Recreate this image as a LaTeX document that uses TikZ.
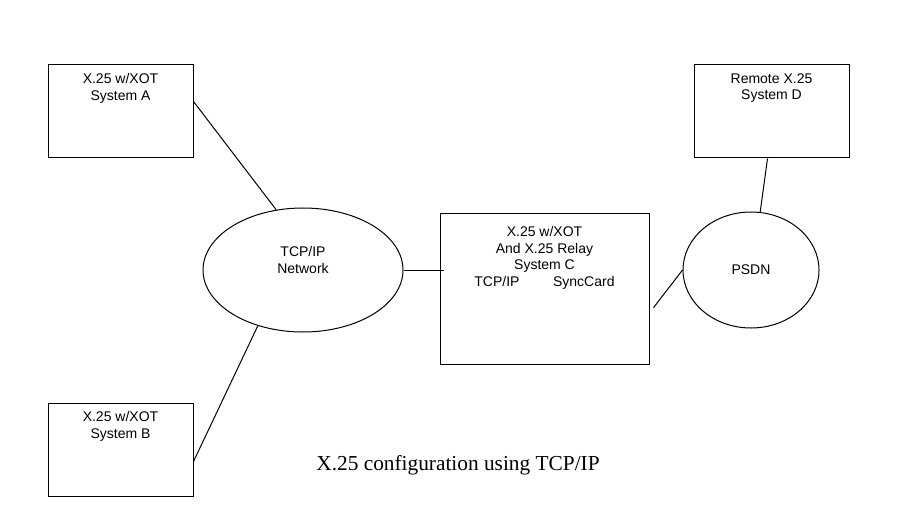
\documentclass[tikz,border=0pt]{standalone}
\usepackage{fontspec}
\setmainfont{Liberation Sans}
\newfontfamily\capfont{Liberation Serif}
\usetikzlibrary{shapes.geometric}
\tikzset{every picture/.style={line width=0.75pt},
  sysbox/.style={draw,minimum width=108.75pt,minimum height=69.75pt,inner sep=0pt},
  lbl/.style={inner sep=0.75pt,align=center,font=\fontsize{10.5}{12.5}\selectfont}}
\begin{document}
\begin{tikzpicture}[x=0.75pt,y=0.75pt,yscale=-1,xscale=1]
\useasboundingbox (0,0) rectangle (898,527);

% systems
\node[sysbox] (sysa) at (120.5,111.5) {};
\node[sysbox] (sysb) at (120.5,449.5) {};
\node[sysbox,minimum width=116.25pt] (sysd) at (771.5,111.5) {};
\node[draw,minimum width=156.75pt,minimum height=112.5pt,inner sep=0pt] (sysc) at (544.5,289) {};
% clouds
\node[draw,ellipse,minimum width=150pt,minimum height=93pt,inner sep=0pt] (net) at (303,270) {};
\node[draw,ellipse,minimum width=102pt,minimum height=87pt,inner sep=0pt] (psdn) at (751,270) {};

% texts
\node[lbl,anchor=north] at (120.5,72) {X.25 w/XOT\\System A};
\node[lbl,anchor=north] at (120.5,410) {X.25 w/XOT\\System B};
\node[lbl,anchor=north] at (771.5,72) {Remote X.25\\System D};
\node[lbl] at (303,260) {TCP/IP\\Network};
\node[lbl] at (751,270) {PSDN};
\node[lbl,anchor=north] at (544.5,225) {X.25 w/XOT\\And X.25 Relay\\System C\\TCP/IP\hspace{2.4em}SyncCard};
\node[inner sep=0pt,font=\capfont\fontsize{16}{18}\selectfont] (cap) at (458,465) {X.25 configuration using TCP/IP};

% links
\draw ([yshift=-7.5pt]sysa.east) -- (net.114);
\draw ([yshift=9pt]sysb.east) -- (net.231);
\draw (net.east) -- ([xshift=3pt]sysc.west |- net.east);
\draw ([xshift=3pt,yshift=14pt]sysc.east) -- (psdn.west);
\draw ([xshift=-3pt]sysd.south) -- (psdn.81);
\end{tikzpicture}
\end{document}
